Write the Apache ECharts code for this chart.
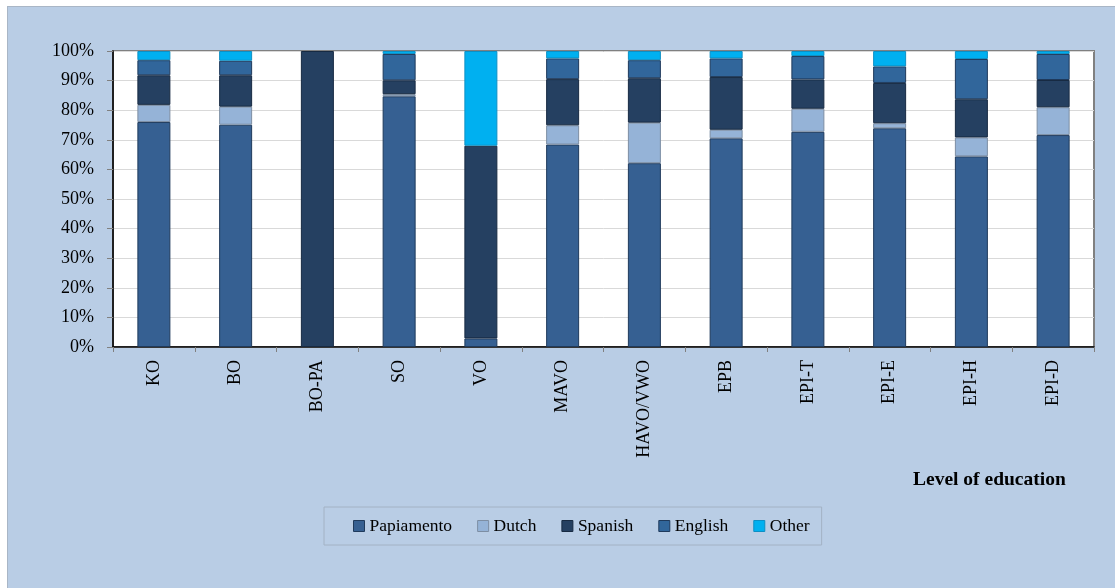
<!DOCTYPE html>
<html>
<head>
<meta charset="utf-8">
<script src="https://cdn.jsdelivr.net/npm/echarts@6/dist/echarts.min.js"></script>
<style>
  html, body { margin: 0; padding: 0; background: #fff; }
  #frame {
    position: absolute; left: 7px; top: 6px;
    width: 1107px; height: 581px;
    background: #b9cde5;
    border-left: 1px solid #a9b6c6; border-top: 1px solid #a9b6c6;
  }
  #chart { width: 1107px; height: 581px; }
</style>
</head>
<body>
<div id="frame"><div id="chart"></div></div>
<script>
const FONT = "'Liberation Serif', 'Times New Roman', serif";

// levels of education
const levels = ['KO', 'BO', 'BO-PA', 'SO', 'VO', 'MAVO', 'HAVO/VWO', 'EPB', 'EPI-T', 'EPI-E', 'EPI-H', 'EPI-D'];

// share per language, in %
const papiamento = [76.0, 75.1, 0, 84.7, 2.9, 68.4, 62.1, 70.5, 72.7, 73.9, 64.4, 71.6];
const dutch      = [5.8, 6.1, 0, 0.7, 0, 6.5, 13.7, 2.9, 7.8, 1.7, 6.4, 9.4];
const spanish    = [10.0, 10.6, 100, 4.7, 65.1, 15.6, 15.0, 17.8, 9.9, 13.6, 12.9, 9.2];
const english    = [5.1, 4.9, 0, 8.9, 0, 7.0, 6.1, 6.3, 7.9, 5.6, 13.6, 8.8];
const other      = [3.1, 3.3, 0, 1.0, 32.0, 2.5, 3.1, 2.5, 1.7, 5.2, 2.7, 1.0];

const languages = [
  { name: 'Papiamento', data: papiamento, color: '#366092', border: '#1f3a5c' },
  { name: 'Dutch', data: dutch, color: '#95b3d7', border: '#7d8ea3' },
  { name: 'Spanish', data: spanish, color: '#254061', border: '#172a42' },
  { name: 'English', data: english, color: '#31669b', border: '#1f3a5c' },
  { name: 'Other', data: other, color: '#00b0f0', border: '#0d8fc4' },
];

const myChart = echarts.init(document.getElementById('chart'));

const option = {
  animation: false,
  textStyle: { fontFamily: FONT },
  grid: {
    left: 105,
    top: 44,
    width: 981,
    height: 296,
    show: true,
    backgroundColor: '#fff',
    borderColor: '#808080',
    borderWidth: 2,
  },
  legend: {
    left: 316,
    top: 500,
    padding: [10, 12, 10, 29],
    borderColor: '#a3b2c4',
    borderWidth: 1,
    itemWidth: 11,
    itemHeight: 11,
    itemGap: 25,
    icon: 'rect',
    textStyle: { fontFamily: FONT, fontSize: 17.5, color: '#000' },
    data: languages.map((l) => ({
      name: l.name,
      itemStyle: { color: l.color, borderColor: l.border, borderWidth: 1 },
    })),
  },
  xAxis: {
    type: 'category',
    data: levels,
    axisLine: { lineStyle: { color: '#000', width: 1.5 } },
    axisTick: { show: true, length: 5, lineStyle: { color: '#808080' } },
    axisLabel: {
      interval: 0,
      rotate: 90,
      margin: 13,
      fontFamily: FONT,
      fontSize: 18,
      color: '#000',
    },
  },
  yAxis: {
    type: 'value',
    min: 0,
    max: 100,
    interval: 10,
    axisLine: { show: true, lineStyle: { color: '#000', width: 1.5 } },
    axisTick: { show: true, length: 6, lineStyle: { color: '#808080' } },
    splitLine: { lineStyle: { color: '#d9d9d9' } },
    axisLabel: {
      formatter: '{value}%',
      margin: 19,
      fontFamily: FONT,
      fontSize: 18,
      color: '#000',
    },
  },
  graphic: [
    {
      type: 'text',
      left: 905,
      top: 463,
      style: {
        text: 'Level of education',
        font: "bold 19.5px 'Liberation Serif', 'Times New Roman', serif",
        fill: '#000',
      },
    },
  ],
  series: languages.map((l) => ({
    name: l.name,
    type: 'bar',
    stack: 'total',
    barWidth: 33,
    // empty segments get no outline
    data: l.data.map((v) => (v === 0 ? { value: 0, itemStyle: { borderWidth: 0 } } : v)),
    itemStyle: { color: l.color, borderColor: l.border, borderWidth: 1 },
  })),
};

myChart.setOption(option);
</script>
</body>
</html>
